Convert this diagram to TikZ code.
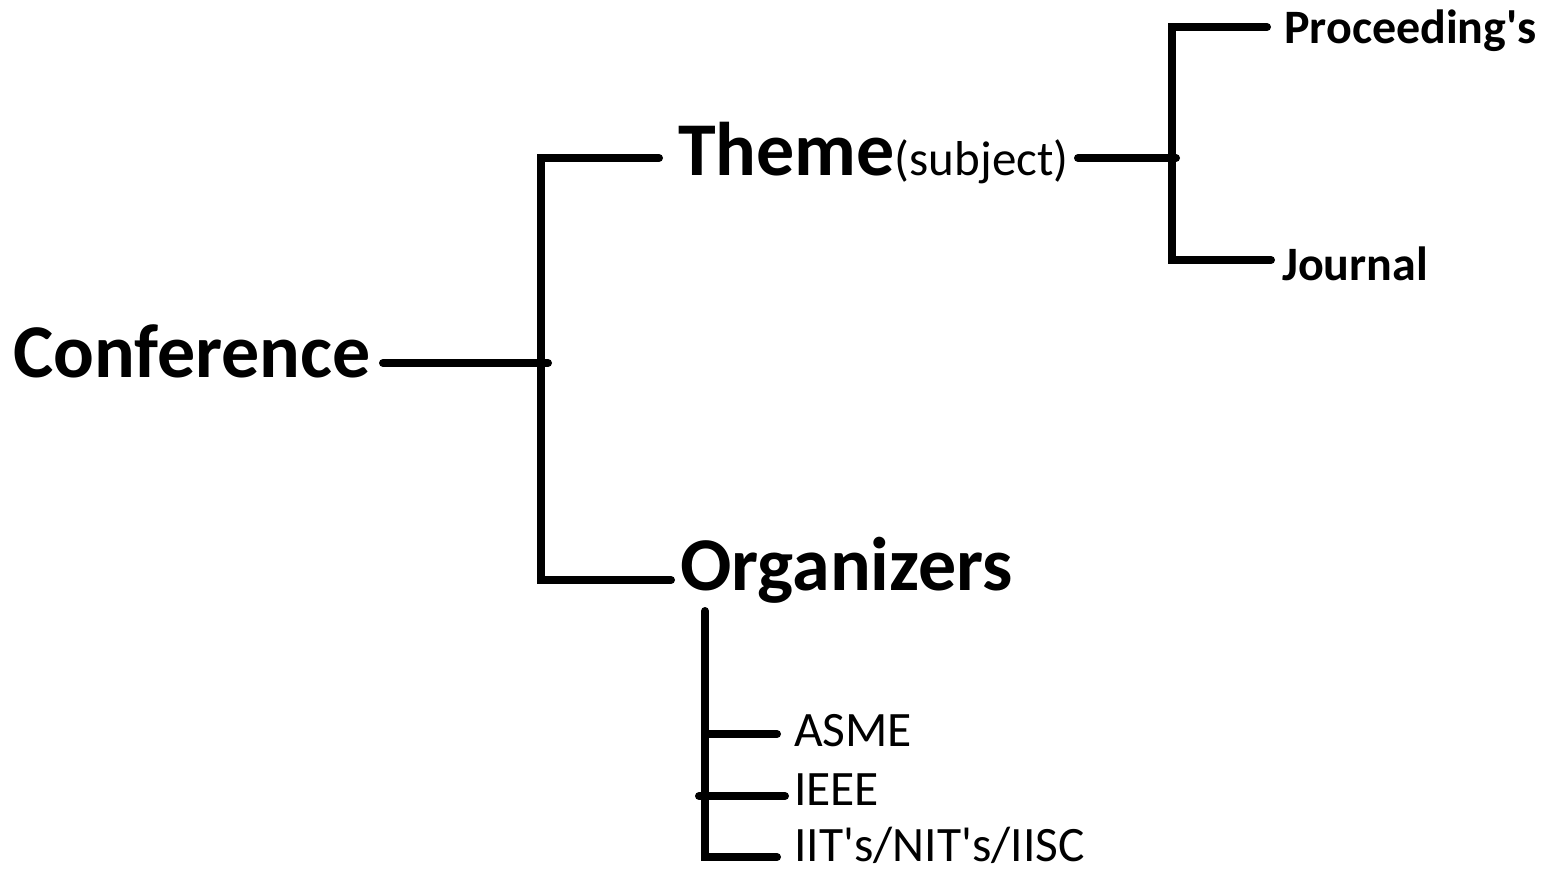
\documentclass[tikz,border=0pt]{standalone}
\usepackage{fontspec}
\newfontfamily\calfont{Carlito}
\begin{document}
\begin{tikzpicture}[x=1pt,y=-1pt,
  link/.style={line width=8pt,line cap=round,line join=miter},
  big/.style={anchor=base west,inner sep=0pt,font=\calfont\fontsize{76}{80}\selectfont\bfseries},
  mid/.style={anchor=base west,inner sep=0pt,font=\calfont\fontsize{48}{54}\selectfont\bfseries},
  small/.style={anchor=base west,inner sep=0pt,font=\calfont\fontsize{49.5}{56}\selectfont}]
\useasboundingbox (0,0) rectangle (1564,871);
% texts
\node[big] (conf) at (13,377) {Conference};
\node[big] (theme) at (678,175) {Theme{\fontsize{49}{52}\selectfont\mdseries(subject)}};
\node[big] (org) at (680,590) {Organizers};
\node[mid] (proc) at (1284,43) {Proceeding's};
\node[mid] (jour) at (1282,280) {Journal};
\node[small] (asme) at (794,746) {ASME};
\node[small] (ieee) at (794,805) {IEEE};
\node[small] (iit) at (794,861) {IIT's/NIT's/IISC};
% junction coordinates
\coordinate (c1) at (383,363);
\coordinate (j1) at (548,363);
\coordinate (s1t) at (541,158);
\coordinate (s1b) at (541,580);
\coordinate (t1) at (659,158);
\coordinate (o1) at (671,580);
\coordinate (t2) at (1078,158);
\coordinate (j2) at (1176,158);
\coordinate (s2t) at (1172,27);
\coordinate (s2b) at (1172,260);
\coordinate (p1) at (1267,27);
\coordinate (q1) at (1271,260);
\coordinate (s3t) at (705,611);
\coordinate (s3b) at (705,857);
\coordinate (a0) at (705,734);
\coordinate (a1) at (777,734);
\coordinate (e0) at (699,796);
\coordinate (e1) at (785,796);
\coordinate (i1) at (777,857);
% connectors
\draw[link] (c1) -- (j1);
\draw[link] (t1) -- (s1t) -- (s1b) -- (o1);
\draw[link] (t2) -- (j2);
\draw[link] (p1) -- (s2t) -- (s2b) -- (q1);
\draw[link] (s3t) -- (s3b) -- (i1);
\draw[link] (a0) -- (a1);
\draw[link] (e0) -- (e1);
\end{tikzpicture}
\end{document}
